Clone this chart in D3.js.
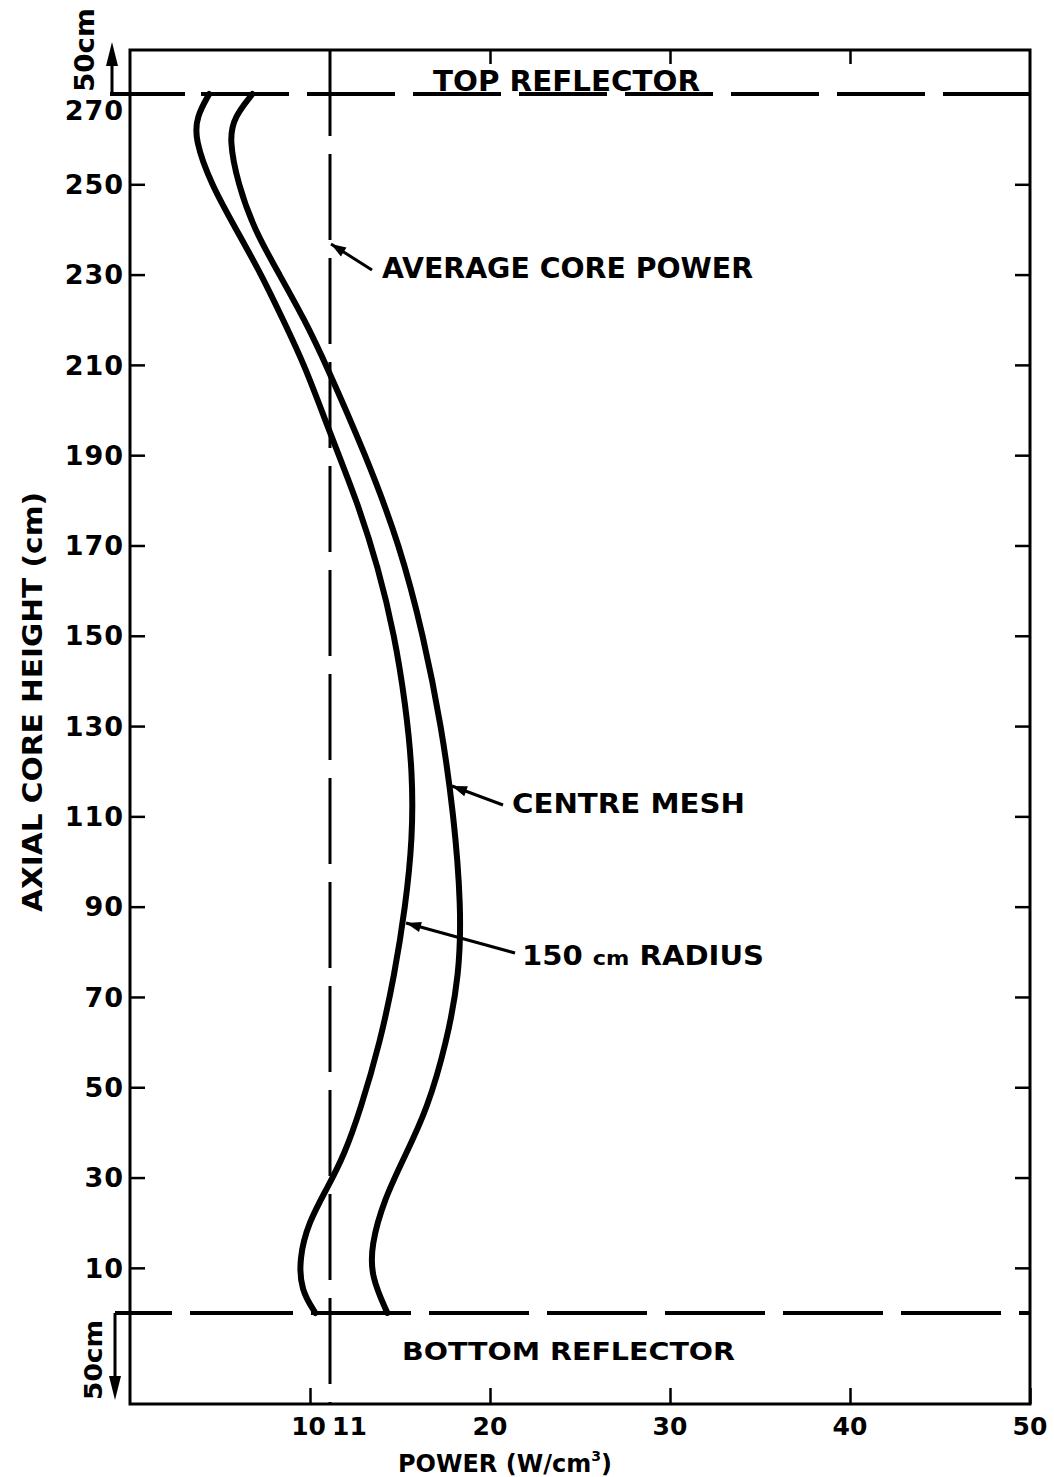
<!DOCTYPE html>
<html>
<head>
<meta charset="utf-8">
<script src="https://cdn.jsdelivr.net/npm/d3@7"></script>
<style>
	body { margin: 0; background: #fff; }
	svg { display: block; }
	text { font-family: "DejaVu Sans", sans-serif; font-weight: bold; fill: #000; }
</style>
</head>
<body>
<div id="chart"></div>
<script>
// axial heights (cm) and power density (W/cm3)
var radiusH = [270, 265, 260, 250, 240, 230, 220, 210, 195, 180, 165, 150, 135, 120, 105, 90, 75, 60, 45, 35, 28, 20, 12, 5, 0];
var radiusP = [4.4, 3.7, 3.6, 4.5, 5.9, 7.3, 8.5, 9.7, 11.1, 12.6, 13.8, 14.7, 15.3, 15.7, 15.7, 15.3, 14.7, 13.9, 12.8, 11.9, 11.0, 9.9, 9.4, 9.5, 10.3];
var centreH = [270, 265, 260, 250, 240, 230, 220, 210, 190, 170, 150, 130, 110, 90, 75, 60, 45, 35, 25, 15, 8, 0];
var centreP = [6.8, 5.8, 5.5, 6.0, 6.9, 8.3, 9.7, 10.9, 13.1, 15.0, 16.3, 17.3, 18.0, 18.4, 18.3, 17.6, 16.5, 15.3, 14.1, 13.4, 13.4, 14.3];
var avgPower = 11;
var yTicks = [10, 30, 50, 70, 90, 110, 130, 150, 170, 190, 210, 230, 250, 270];
var xTicks = [10, 20, 30, 40, 50];
var xTopTicks = [20, 30, 40];
var xTickLabels = ["10", "11", "20", "30", "40", "50"];
var xTickLabelVals = [10, 11, 20, 30, 40, 50];

var width = 1054, height = 1477;
var mLeft = 130, mRight = 1030, mTop = 50, mBottom = 1404;

var svg = d3.select("#chart").append("svg").attr("width", width).attr("height", height);

var x = d3.scaleLinear().domain([0, 50]).range([mLeft, mRight]);
var y = d3.scaleLinear().domain([0, 270]).range([1313, 94]);

var defs = svg.append("defs");
defs.append("marker").attr("id", "head")
	.attr("viewBox", "0 0 10 10").attr("refX", 10).attr("refY", 5)
	.attr("markerWidth", 6).attr("markerHeight", 5).attr("markerUnits", "strokeWidth")
	.attr("orient", "auto")
	.append("path").attr("d", "M0,1.5 L10,5 L0,8.5 Z").attr("fill", "#000");

// frame
svg.append("rect")
	.attr("x", mLeft).attr("y", mTop).attr("width", mRight - mLeft).attr("height", mBottom - mTop)
	.attr("fill", "none").attr("stroke", "#000").attr("stroke-width", 3);

function thin(g) { g.select(".domain").remove(); g.selectAll("line").attr("stroke", "#000").attr("stroke-width", 2.5); }

// left and right axes, ticks pointing inward
svg.append("g").attr("transform", "translate(" + mLeft + ",0)")
	.call(d3.axisRight(y).tickValues(yTicks).tickSize(15).tickFormat(""))
	.call(thin);
svg.append("g").attr("transform", "translate(" + mRight + ",0)")
	.call(d3.axisLeft(y).tickValues(yTicks).tickSize(15).tickFormat(""))
	.call(thin);

// bottom and top ticks
svg.append("g").attr("transform", "translate(0," + mBottom + ")")
	.call(d3.axisTop(x).tickValues(xTicks).tickSize(16).tickFormat(""))
	.call(thin);
svg.append("g").attr("transform", "translate(0," + mTop + ")")
	.call(d3.axisBottom(x).tickValues(xTopTicks).tickSize(14).tickFormat(""))
	.call(thin);

// y tick labels
svg.append("g").selectAll("text").data(yTicks).join("text")
	.attr("x", 124)
	.attr("y", function(d) { return y(d) + (d === 270 ? 16 : 0); })
	.attr("dy", "0.36em")
	.attr("text-anchor", "end")
	.attr("font-size", 27)
	.attr("letter-spacing", 1)
	.text(function(d) { return d; });

// x tick labels
svg.append("g").selectAll("text").data(xTickLabelVals).join("text")
	.attr("x", function(d) { return d === 10 ? x(d) + 16 : d === 11 ? x(d) + 4 : x(d); })
	.attr("y", 1435)
	.attr("text-anchor", function(d) { return d === 10 ? "end" : d === 11 ? "start" : "middle"; })
	.attr("font-size", 25)
	.text(function(d, i) { return xTickLabels[i]; });

// reflector boundaries
svg.append("line").attr("x1", 110).attr("x2", mRight).attr("y1", y(270)).attr("y2", y(270))
	.attr("stroke", "#000").attr("stroke-width", 4).attr("stroke-dasharray", "75,16,88,18,88,18,88,18,88,18,88,18,88,18,88,18,88,18,88,18,88,18");
svg.append("line").attr("x1", 115).attr("x2", mRight).attr("y1", y(0)).attr("y2", y(0))
	.attr("stroke", "#000").attr("stroke-width", 4).attr("stroke-dasharray", "57,18,103,18,100,18,100,18,100,18,100,18,100,18,100,18,100,18");

// average core power
svg.append("line").attr("x1", x(avgPower) + 2).attr("x2", x(avgPower) + 2).attr("y1", mTop).attr("y2", mBottom)
	.attr("stroke", "#000").attr("stroke-width", 3).attr("stroke-dasharray", "86,18");

// curves
var line = d3.line()
	.x(function(d) { return x(d.p); })
	.y(function(d) { return y(d.h); })
	.curve(d3.curveBasis);
var series = [
	radiusH.map(function(h, i) { return {h: h, p: radiusP[i]}; }),
	centreH.map(function(h, i) { return {h: h, p: centreP[i]}; })
];
svg.append("g").selectAll("path").data(series).join("path")
	.attr("d", line)
	.attr("fill", "none").attr("stroke", "#000").attr("stroke-width", 6)
	.attr("stroke-linecap", "round");

// reflector extents (50 cm, not to scale)
svg.append("line").attr("x1", 112).attr("x2", 112).attr("y1", y(270)).attr("y2", 60)
	.attr("stroke", "#000").attr("stroke-width", 3);
svg.append("path").attr("d", "M112,42 L106,66 L118,66 Z").attr("fill", "#000");
svg.append("line").attr("x1", 115).attr("x2", 115).attr("y1", y(0)).attr("y2", 1380)
	.attr("stroke", "#000").attr("stroke-width", 3);
svg.append("path").attr("d", "M115,1400 L109,1376 L121,1376 Z").attr("fill", "#000");
svg.append("text").attr("transform", "translate(94,50) rotate(-90)")
	.attr("text-anchor", "middle").attr("font-size", 26)
	.attr("textLength", 84).attr("lengthAdjust", "spacingAndGlyphs").text("50cm");
svg.append("text").attr("transform", "translate(102,1360) rotate(-90)")
	.attr("text-anchor", "middle").attr("font-size", 24)
	.attr("textLength", 80).attr("lengthAdjust", "spacingAndGlyphs").text("50cm");

// labels
function label(t, x0, y0, len, size) {
	svg.append("text").attr("x", x0).attr("y", y0).attr("font-size", size)
		.attr("textLength", len).attr("lengthAdjust", "spacingAndGlyphs").text(t);
}
label("TOP REFLECTOR", 433, 91, 267, 29);
label("BOTTOM REFLECTOR", 402, 1360, 333, 25);
label("AVERAGE CORE POWER", 382, 278, 371, 29);
label("CENTRE MESH", 512, 813, 233, 27);

var pw = svg.append("text").attr("x", 398).attr("y", 1472).attr("font-size", 24);
pw.append("tspan").text("POWER (W/cm");
pw.append("tspan").attr("font-size", 14).attr("dy", -11).text("3");
pw.append("tspan").attr("dy", 11).text(")");

var rad = svg.append("text").attr("x", 522).attr("y", 965).attr("font-size", 26);
rad.append("tspan").text("150 ");
rad.append("tspan").attr("font-size", 20).text("cm");
rad.append("tspan").text("  RADIUS");
rad.attr("textLength", 242).attr("lengthAdjust", "spacingAndGlyphs");

svg.append("text").attr("transform", "translate(42,702) rotate(-90)")
	.attr("text-anchor", "middle").attr("font-size", 27)
	.attr("textLength", 420).attr("lengthAdjust", "spacingAndGlyphs")
	.text("AXIAL CORE HEIGHT (cm)");

// leader arrows
var arrows = [
	{x1: 372, y1: 270, x2: x(avgPower) + 3, y2: 244},
	{x1: 503, y1: 805, x2: 452, y2: 786},
	{x1: 515, y1: 953, x2: 406, y2: 923}
];
svg.append("g").selectAll("line").data(arrows).join("line")
	.attr("x1", function(d) { return d.x1; }).attr("y1", function(d) { return d.y1; })
	.attr("x2", function(d) { return d.x2; }).attr("y2", function(d) { return d.y2; })
	.attr("stroke", "#000").attr("stroke-width", 3).attr("marker-end", "url(#head)");
</script>
</body>
</html>
